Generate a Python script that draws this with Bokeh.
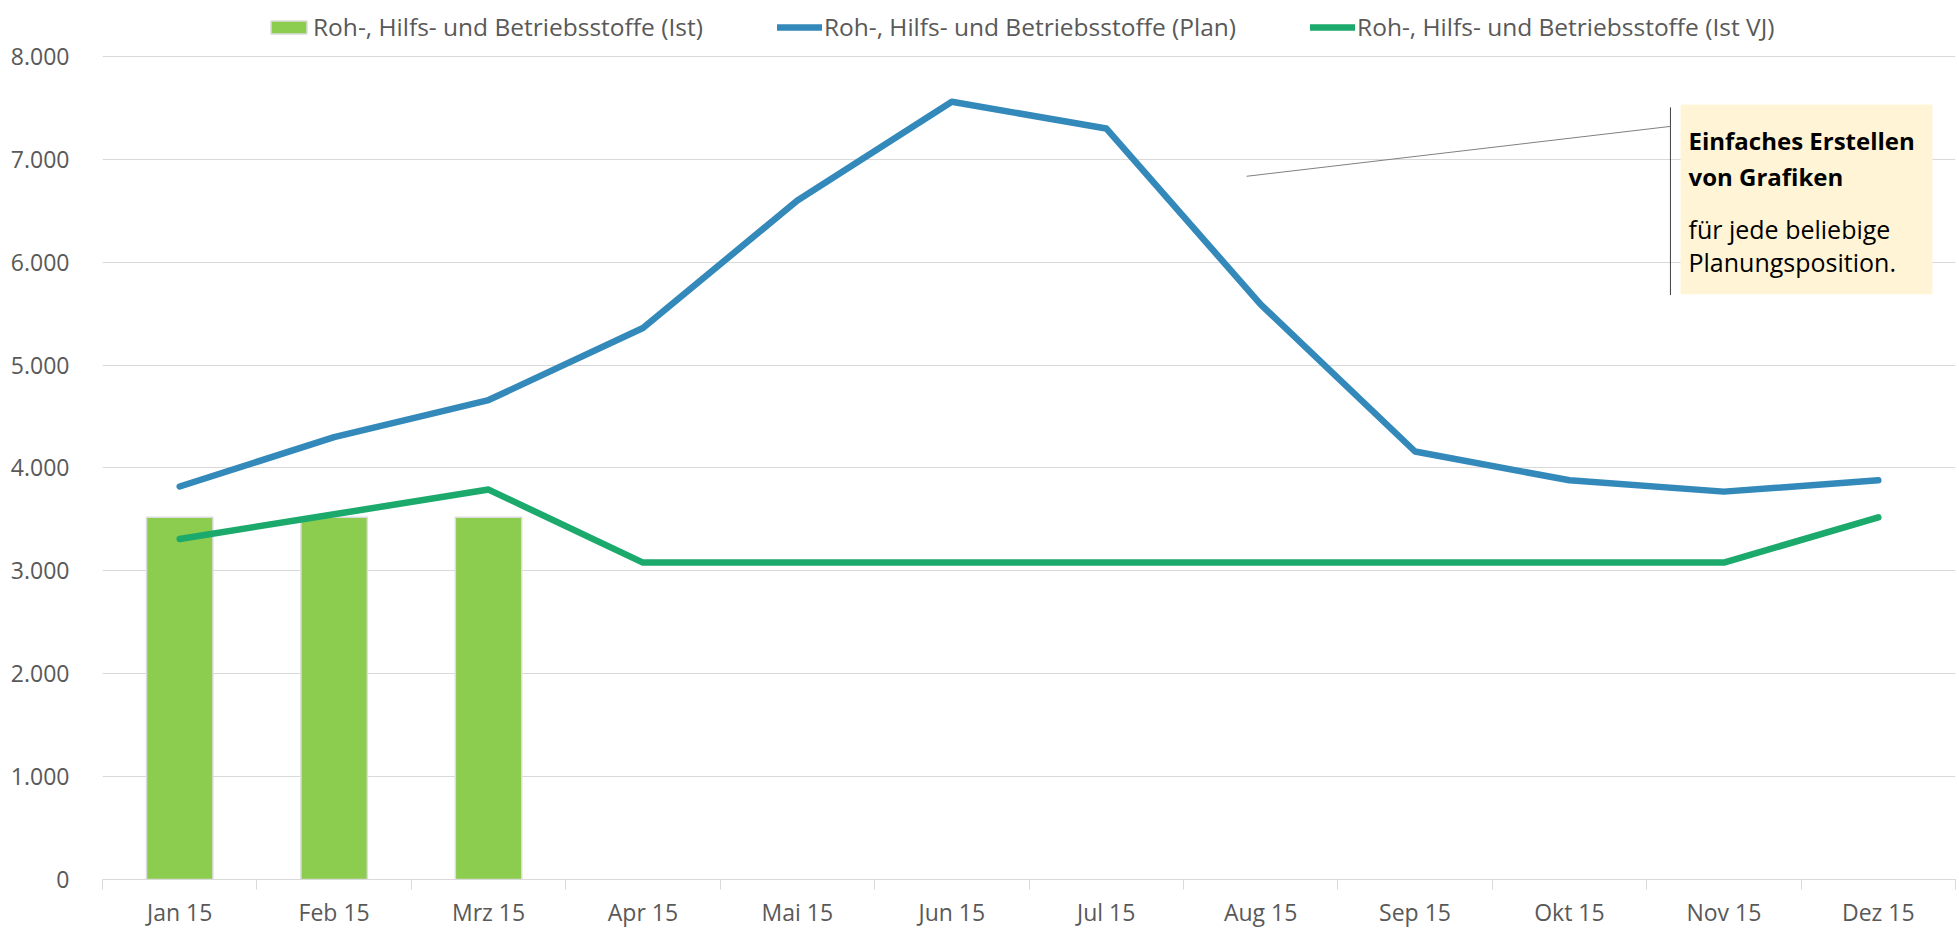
from bokeh.plotting import figure
from bokeh.models import (Range1d, FixedTicker, Legend, LegendItem, BoxAnnotation,
                          Label, Arrow, ColumnDataSource)
from bokeh.embed import file_html
from bokeh.resources import INLINE

# ---- data ----
months = ["Jan 15", "Feb 15", "Mrz 15", "Apr 15", "Mai 15", "Jun 15",
          "Jul 15", "Aug 15", "Sep 15", "Okt 15", "Nov 15", "Dez 15"]
ist = [3520, 3520, 3520]
plan = [3820, 4300, 4660, 5360, 6600, 7560, 7300, 5590, 4160, 3880, 3770, 3880]
ist_vj = [3310, 3550, 3790, 3080, 3080, 3080, 3080, 3080, 3080, 3080, 3080, 3520]
y_ticks = [0, 1000, 2000, 3000, 4000, 5000, 6000, 7000, 8000]
y_tick_labels = ["0", "1.000", "2.000", "3.000", "4.000", "5.000", "6.000", "7.000", "8.000"]
series_names = ["Roh-, Hilfs- und Betriebsstoffe (Ist)",
                "Roh-, Hilfs- und Betriebsstoffe (Plan)",
                "Roh-, Hilfs- und Betriebsstoffe (Ist VJ)"]

FONT = "Open Sans"
TXT = "#595959"
GRID = "#D9D9D9"
BAR = "#8CCD4F"
BLUE = "#3389BA"
GREEN = "#1BA96C"

xs = list(range(1, len(months) + 1))

# frame reaches the top of the canvas; headroom above 8.000 holds the legend
Y_TOP = 8000 * 880 / 824
p = figure(width=1957, height=930, output_backend="svg", toolbar_location=None,
           x_range=Range1d(0.5, len(months) + 0.5), y_range=Range1d(0, Y_TOP),
           min_border_left=102, min_border_right=2, min_border_top=0, min_border_bottom=50)
p.outline_line_color = None
p.background_fill_color = "white"
p.border_fill_color = "white"

bar_src = ColumnDataSource(dict(x=xs[:len(ist)], top=ist))
r_bar = p.vbar(x="x", top="top", width=0.43, source=bar_src, fill_color=BAR,
               line_color="#DCDCDC", line_width=1.5)
plan_src = ColumnDataSource(dict(x=xs, y=plan))
r_plan = p.line(x="x", y="y", source=plan_src, line_color=BLUE, line_width=6.5,
                line_cap="round", line_join="round")
vj_src = ColumnDataSource(dict(x=xs, y=ist_vj))
r_vj = p.line(x="x", y="y", source=vj_src, line_color=GREEN, line_width=6.5,
              line_cap="round", line_join="round")

# axes
p.xgrid.grid_line_color = None
p.ygrid.grid_line_color = GRID
p.ygrid.grid_line_width = 1

p.yaxis.ticker = FixedTicker(ticks=y_ticks)
p.yaxis.major_label_overrides = {t: l for t, l in zip(y_ticks, y_tick_labels)}
p.yaxis.axis_line_color = None
p.yaxis.major_tick_line_color = None
p.yaxis.minor_tick_line_color = None
p.yaxis.major_label_standoff = 27
p.yaxis.major_label_text_font = FONT
p.yaxis.major_label_text_font_size = "23px"
p.yaxis.major_label_text_color = TXT

p.xaxis.ticker = FixedTicker(ticks=xs, minor_ticks=[x - 0.5 for x in xs] + [len(xs) + 0.5])
p.xaxis.major_label_overrides = {x: m for x, m in zip(xs, months)}
p.xaxis.axis_line_color = GRID
p.xaxis.axis_line_width = 1
p.xaxis.major_tick_line_color = None
p.xaxis.major_tick_out = 0
p.xaxis.major_tick_in = 0
p.xaxis.minor_tick_line_color = GRID
p.xaxis.minor_tick_out = 10
p.xaxis.minor_tick_in = 0
p.xaxis.major_label_standoff = 6
p.xaxis.major_label_text_font = FONT
p.xaxis.major_label_text_font_size = "23px"
p.xaxis.major_label_text_color = TXT

# legend
legend = Legend(items=[LegendItem(label=series_names[0], renderers=[r_bar]),
                       LegendItem(label=series_names[1], renderers=[r_plan]),
                       LegendItem(label=series_names[2], renderers=[r_vj])],
                orientation="horizontal", location=(164, 836),
                label_text_font=FONT, label_text_font_size="24.5px", label_text_color=TXT,
                glyph_width=45, glyph_height=16, label_standoff=2, spacing=74,
                padding=0, margin=0, border_line_color=None, background_fill_alpha=0)
p.add_layout(legend, "center")

# callout annotation
p.add_layout(BoxAnnotation(left=10.719, right=12.351, top=7534, bottom=5689,
                           fill_color="#FFF5D6", fill_alpha=1, line_color=None))
p.add_layout(Arrow(start=None, end=None, x_start=10.654, y_start=7505, x_end=10.654, y_end=5680,
                   line_color="#404040", line_width=1))
p.add_layout(Arrow(start=None, end=None, x_start=7.909, y_start=6835, x_end=10.654, y_end=7320,
                   line_color="#808080", line_width=1))
for txt, yy, style, size in [("Einfaches Erstellen", 7184, "bold", "24px"),
                             ("von Grafiken", 6835, "bold", "24px"),
                             ("für jede beliebige", 6320, "normal", "25px"),
                             ("Planungsposition.", 6000, "normal", "25px")]:
    p.add_layout(Label(x=10.771, y=yy, text=txt, text_font=FONT, text_font_style=style,
                       text_font_size=size, text_color="black", text_baseline="middle"))

open("out.html", "w").write(file_html(p, INLINE))
